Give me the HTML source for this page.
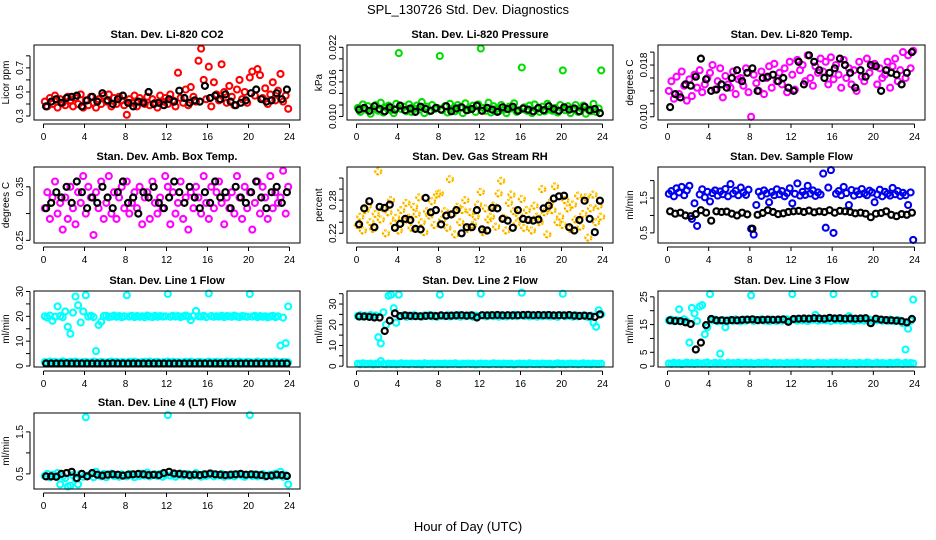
<!DOCTYPE html>
<html><head><meta charset="utf-8"><style>
html,body{margin:0;padding:0;background:#fff}
svg{display:block;font-family:"Liberation Sans",sans-serif}
</style></head><body>
<svg id="chart" width="936" height="540" viewBox="0 0 936 540" xmlns="http://www.w3.org/2000/svg">
<text x="468" y="14" text-anchor="middle" font-size="13">SPL_130726  Std. Dev. Diagnostics</text>
<text x="468" y="531" text-anchor="middle" font-size="13">Hour of Day (UTC)</text>
</svg>
<script>
const hourTicks = [0,4,8,12,16,20,24];
const co2Red = [.42,.38,.45,.40,.47,.37,.44,.41,.39,.46,.43,.38,.45,.40,.48,.37,.43,.39,.46,.41,.37,.44,.40,.47,.42,.48,.38,.45,.40,.46,.43,.39,.31,.44,.41,.47,.38,.45,.42,.40,.46,.39,.44,.41,.37,.47,.42,.45,.40,.48,.43,.38,.66,.45,.41,.52,.39,.54,.46,.42,.76,.86,.60,.44,.71,.38,.58,.48,.43,.73,.50,.41,.55,.46,.39,.52,.60,.44,.50,.41,.62,.67,.47,.69,.64,.45,.53,.40,.48,.58,.43,.51,.65,.42,.47,.36];
const co2Black = [.38,.42,.44,.41,.45,.46,.47,.38,.43,.46,.42,.49,.43,.40,.44,.47,.41,.38,.42,.41,.50,.40,.41,.39,.44,.42,.51,.45,.41,.43,.42,.55,.45,.47,.44,.48,.42,.39,.41,.43,.49,.52,.44,.42,.43,.49,.44,.52];
const presGreen = [.0115,.0108,.0121,.0112,.0118,.0105,.0113,.0120,.0110,.0124,.0107,.0116,.0119,.0111,.0106,.0122,.0210,.0113,.0117,.0109,.0121,.0108,.0114,.0119,.0112,.0125,.0106,.0117,.0109,.0120,.0113,.0115,.0205,.0111,.0118,.0107,.0122,.0114,.0109,.0120,.0116,.0106,.0123,.0111,.0113,.0119,.0108,.0121,.0218,.0115,.0110,.0124,.0107,.0118,.0113,.0109,.0120,.0112,.0106,.0117,.0114,.0123,.0108,.0111,.0185,.0116,.0110,.0119,.0106,.0121,.0113,.0108,.0117,.0109,.0122,.0112,.0110,.0115,.0107,.0120,.0180,.0111,.0118,.0106,.0113,.0120,.0108,.0115,.0119,.0105,.0112,.0109,.0122,.0108,.0114,.0180];
const presBlack = [.0112,.0115,.0110,.0118,.0113,.0109,.0116,.0112,.0119,.0111,.0114,.0108,.0117,.0113,.0110,.0115,.0112,.0118,.0109,.0114,.0116,.0111,.0113,.0119,.0110,.0115,.0112,.0108,.0116,.0113,.0117,.0110,.0114,.0112,.0109,.0115,.0111,.0118,.0113,.0110,.0116,.0112,.0114,.0109,.0117,.0111,.0113,.0106];
const tempMag = [.0140,.0155,.0128,.0162,.0135,.0170,.0148,.0125,.0158,.0132,.0165,.0145,.0172,.0138,.0150,.0160,.0168,.0180,.0142,.0155,.0175,.0130,.0163,.0150,.0145,.0170,.0135,.0158,.0160,.0148,.0175,.0138,.0100,.0165,.0152,.0140,.0170,.0135,.0160,.0178,.0145,.0182,.0155,.0168,.0150,.0175,.0138,.0185,.0165,.0142,.0188,.0172,.0180,.0155,.0195,.0160,.0148,.0178,.0168,.0190,.0170,.0185,.0150,.0192,.0158,.0180,.0165,.0145,.0188,.0160,.0175,.0150,.0172,.0140,.0185,.0162,.0155,.0190,.0168,.0178,.0182,.0150,.0175,.0160,.0165,.0185,.0145,.0178,.0190,.0155,.0172,.0200,.0160,.0195,.0175,.0202];
const tempBlack = [.0115,.0135,.0130,.0150,.0148,.0162,.0190,.0158,.0140,.0142,.0150,.0145,.0160,.0172,.0155,.0168,.0175,.0140,.0160,.0162,.0165,.0155,.0160,.0145,.0140,.0185,.0150,.0195,.0185,.0172,.0160,.0168,.0175,.0190,.0180,.0168,.0145,.0172,.0162,.0180,.0178,.0140,.0172,.0168,.0165,.0150,.0168,.0200];
const ambMag = [.31,.34,.29,.33,.36,.30,.32,.27,.33,.29,.35,.31,.28,.34,.32,.37,.30,.35,.33,.26,.34,.31,.36,.29,.32,.37,.30,.34,.29,.33,.35,.31,.36,.30,.32,.34,.31,.35,.28,.33,.34,.29,.36,.32,.30,.33,.31,.37,.35,.28,.34,.30,.32,.36,.29,.33,.27,.34,.31,.35,.33,.30,.37,.32,.29,.35,.31,.34,.36,.32,.28,.33,.31,.34,.30,.37,.33,.29,.35,.31,.34,.27,.32,.36,.30,.35,.33,.29,.37,.31,.34,.32,.33,.38,.30,.35];
const ambBlack = [.31,.32,.34,.33,.35,.32,.36,.34,.31,.33,.32,.35,.33,.31,.34,.36,.32,.33,.30,.34,.33,.35,.32,.31,.33,.36,.34,.32,.35,.33,.31,.34,.32,.36,.33,.34,.31,.35,.33,.32,.34,.36,.33,.31,.34,.35,.32,.34];
const rhOrange = [.235,.250,.225,.262,.270,.240,.228,.255,.332,.245,.265,.220,.258,.280,.238,.248,.225,.262,.242,.275,.248,.230,.268,.255,.285,.240,.222,.260,.252,.278,.235,.290,.292,.245,.260,.230,.318,.255,.218,.268,.240,.262,.280,.228,.258,.235,.250,.272,.295,.222,.265,.245,.250,.270,.232,.292,.315,.248,.225,.275,.290,.260,.238,.252,.282,.230,.262,.245,.225,.270,.250,.240,.300,.258,.218,.275,.262,.305,.240,.250,.235,.280,.265,.228,.272,.245,.288,.232,.255,.285,.212,.265,.290,.240,.270,.250];
const rhBlack = [.236,.265,.278,.231,.268,.266,.272,.230,.237,.246,.244,.228,.227,.284,.258,.262,.236,.252,.254,.262,.220,.231,.231,.262,.227,.225,.266,.265,.246,.243,.230,.262,.246,.244,.243,.245,.265,.270,.283,.287,.288,.231,.225,.244,.279,.246,.222,.279];
const flowBlue = [1.62,1.70,1.55,1.78,1.66,1.82,1.58,1.72,1.85,0.90,1.35,0.70,1.60,1.75,1.52,1.68,1.40,1.64,1.72,1.57,1.69,1.61,1.76,1.55,1.90,1.63,1.71,1.58,1.80,1.66,1.59,1.74,0.62,0.45,1.30,1.68,1.56,1.72,1.63,1.38,1.67,1.58,1.75,1.61,1.70,1.55,1.64,1.78,1.35,1.62,1.92,1.57,1.68,1.59,1.85,1.63,1.72,1.56,1.66,1.60,2.20,0.65,1.80,2.30,0.50,1.62,1.70,1.58,1.82,1.64,1.30,1.73,1.57,1.69,1.61,1.76,1.63,1.58,1.71,1.66,1.38,1.60,1.74,1.55,1.68,1.62,1.57,1.79,1.61,1.70,1.56,1.65,1.58,1.30,1.66,0.30];
const flowBlack = [1.12,1.05,1.08,1.00,0.98,1.04,1.15,1.08,0.85,1.12,1.10,1.11,1.05,1.00,1.08,1.03,0.62,1.02,1.07,1.15,1.10,1.04,1.06,1.10,1.12,1.13,1.10,1.14,1.09,1.12,1.10,1.15,1.08,1.13,1.12,1.10,1.06,1.08,1.05,0.95,1.05,1.07,1.12,1.02,0.98,1.04,1.02,1.08];
const line1Hi = [20,19.5,20.3,18.2,19.8,24,20.1,19.6,22,15.8,13,21.5,28,24.5,17.5,22,28.5,19.9,20.2,19.7,6,16.5,17.8,20.1,20.2,19.7,19.9,20.3,19.8,20.1,19.6,20.0,28.5,19.9,20.2,19.7,20.1,19.8,20.0,19.6,20.3,19.9,19.7,20.2,19.8,20.1,19.9,20.0,29,19.8,20.2,19.9,20.1,19.7,20.0,20.3,19.8,18.5,20.1,22.2,20.0,19.9,20.2,19.7,29.2,20.1,19.8,20.0,19.9,20.2,19.7,20.1,20.0,19.8,20.3,19.9,19.7,20.1,20.0,19.8,29,19.9,20.2,19.7,20.1,19.8,20.0,19.6,19.9,20.2,19.7,20.0,8.2,19.5,9.2,24];
const line1Lo = [1.6,1.4,1.8,1.5,1.7,1.3,1.6,1.9,1.5,1.4,1.7,1.6,1.8,1.5,1.3,1.6,1.7,1.4,1.5,1.8,1.6,1.3,1.7,1.5,1.4,1.6,1.8,1.5,1.7,1.4,1.6,1.5,1.3,1.7,1.6,1.8,1.5,1.4,1.6,1.7,1.5,1.8,1.4,1.6,1.7,1.3,1.5,1.6,1.8,1.4,1.7,1.5,1.6,1.3,1.5,1.7,1.6,1.8,1.4,1.5,1.7,1.6,1.3,1.5,1.8,1.4,1.6,1.7,1.5,1.6,1.4,1.8,1.3,1.7,1.5,1.6,1.8,1.4,1.5,1.7,1.6,1.3,1.5,1.8,1.4,1.6,1.7,1.5,1.6,1.4,1.8,1.5,1.3,1.7,1.6,1.5];
const line1Black = [1,1,1,1,1.1,1,1,1,1,1,1,1,1,1.1,1,1,1,1,1,1,1,1,1,1,1,1,1,1,1,1,1,1,1,1,1,1,1,1,1,1,1,1,1,1,1,1,1,1];
const line2Hi = [24.3,24.6,23.9,24.4,24.1,24.7,24.0,24.5,14,11,26,20,34,34.5,28,21,34.5,24.2,24.6,23.8,24.4,24.0,24.7,24.1,24.3,23.9,24.5,24.2,24.6,24.0,24.4,23.8,34.5,24.3,24.1,24.6,24.0,24.4,24.2,24.7,23.9,24.5,24.1,24.3,24.6,23.8,24.4,24.2,35,24.5,24.0,24.3,24.7,24.1,24.4,23.9,24.6,24.2,24.0,24.5,24.3,24.8,24.1,24.4,35.5,24.2,24.6,24.0,24.3,24.5,23.9,24.4,24.1,24.7,24.2,24.0,24.5,24.3,23.8,24.6,35,24.1,24.4,24.2,23.9,24.6,24.0,24.3,24.5,24.1,23.7,24.4,21,19,27,25];
const line2Lo = [1.2,0.9,1.4,1.0,1.1,1.3,0.8,1.2,1.0,2.5,1.1,0.9,1.3,1.0,1.2,0.9,1.1,1.4,1.0,1.2,0.9,1.3,1.1,1.0,1.2,0.8,1.4,1.1,1.0,1.3,0.9,1.2,1.1,1.0,1.3,0.9,1.2,1.1,1.4,1.0,0.9,1.2,1.1,1.3,1.0,1.2,0.8,1.1,1.3,1.0,1.2,0.9,1.1,1.4,1.0,1.2,0.9,1.3,1.1,1.0,1.2,0.8,1.1,1.3,1.0,1.2,0.9,1.4,1.1,1.0,1.2,0.9,1.3,1.1,1.0,1.2,0.8,1.1,1.4,1.0,1.2,0.9,1.1,1.3,1.0,1.2,0.9,1.1,1.4,1.0,1.2,0.9,1.3,1.1,1.0,1.2];
const line2Black = [24,24,23.8,23.5,23.5,17,22,25.5,24.2,24.5,24.3,24.2,24.1,24.3,24.4,24.2,24.5,24.3,24.4,24.5,24.6,24.4,24.5,23.5,24.6,24.5,24.6,24.7,24.5,24.6,24.5,24.6,24.7,24.8,24.6,24.7,24.6,24.7,24.5,24.6,24.5,24.7,24.4,24.3,24.4,24.2,23.8,25];
const line3Hi = [16.5,16.8,16.2,16.6,20.5,16.4,16.9,16.1,8.5,21,19,16.3,21.5,22,11.5,14,26,16.5,16.8,16.2,4.5,16.6,14,16.4,16.7,16.3,16.9,16.5,16.2,16.8,16.4,16.6,25.5,16.3,16.7,16.5,16.9,16.4,16.6,16.2,16.8,16.5,16.3,16.7,16.4,16.6,16.9,16.5,26,16.7,16.4,16.8,16.5,16.6,16.3,16.9,16.7,18.5,16.4,16.8,16.6,16.5,16.9,16.3,26,16.6,16.8,16.4,16.7,16.5,18,16.6,16.3,16.7,16.5,16.9,16.4,16.6,16.8,16.3,26,16.5,16.7,16.4,16.6,16.3,16.8,16.5,16.2,16.6,16.4,15.5,6,13.5,16.3,24];
const line3Lo = [1.0,0.8,1.2,0.9,1.1,0.7,1.0,1.3,0.9,1.1,0.8,1.2,1.0,0.9,1.1,1.3,0.8,1.0,1.2,0.9,1.1,1.0,0.8,1.2,0.9,1.1,1.0,1.3,0.8,1.0,1.2,0.9,1.1,0.8,1.0,1.2,0.9,1.1,1.3,1.0,0.8,1.2,0.9,1.1,1.0,0.8,1.2,0.9,1.1,1.0,1.3,0.8,1.0,1.2,0.9,1.1,0.8,1.0,1.2,0.9,1.1,1.0,0.8,1.2,0.9,1.3,1.0,1.1,0.8,1.2,0.9,1.0,1.1,0.8,1.2,1.0,0.9,1.3,1.1,0.8,1.0,1.2,0.9,1.1,1.0,0.8,1.2,0.9,1.1,1.3,1.0,0.8,1.2,0.9,1.1,1.0];
const line3Black = [16.5,16.3,16.2,15.8,15.2,6,8.5,14.8,17,16.5,16.5,16.4,16.6,16.5,16.7,16.8,16.9,16.6,16.7,16.8,16.7,16.8,16.9,16.0,17.0,17.1,17.2,17.1,17.3,17.2,17.1,17.4,17.2,17.3,17.1,17.2,17.1,17.2,17.3,15.5,17.1,16.8,16.6,16.5,16.4,16.2,15.8,17];
const line4Cyan = [.45,.50,.42,.48,.46,.52,.25,.44,.40,.20,.22,.47,.38,.25,.50,.43,1.85,.46,.49,.42,.55,.47,.44,.50,.42,.48,.51,.45,.47,.43,.49,.46,.44,.50,.47,.42,.48,.45,.51,.46,.53,.44,.47,.49,.45,.50,.43,.47,1.9,.46,.49,.43,.47,.51,.45,.48,.50,.44,.47,.52,.46,.43,.49,.45,.47,.51,.44,.48,.46,.50,.43,.47,.45,.49,.44,.48,.50,.46,.43,.47,1.9,.45,.49,.44,.47,.50,.43,.46,.48,.44,.51,.46,.55,.43,.47,.25];
const line4Black = [.44,.44,.43,.50,.52,.55,.40,.50,.44,.52,.48,.46,.48,.49,.48,.46,.48,.49,.50,.49,.47,.48,.47,.52,.55,.51,.50,.49,.47,.48,.47,.49,.51,.49,.48,.47,.48,.49,.50,.48,.49,.48,.47,.45,.46,.48,.47,.45];

const NS = "http://www.w3.org/2000/svg";
const svg = document.getElementById('chart');
function mk(tag, attrs, parent){const e=document.createElementNS(NS,tag);for(const k in attrs)e.setAttribute(k,attrs[k]);(parent||svg).appendChild(e);return e;}

const cols=[[34,300],[347,613],[658,925]];
const rows=[[45,120],[167,243],[291,367],[413,489]];
const panels=[
 {t:"Stan. Dev. Li-820 CO2",yl:"Licor ppm",c:0,r:0,d:[0.267,0.89],ticks:[.3,.4,.5,.6,.7,.8],labels:[.3,.5,.7],fmt:1,series:[[co2Red,"#ff0000"],[co2Black,"#000"]],name:"co2"},
 {t:"Stan. Dev. Li-820 Pressure",yl:"kPa",c:1,r:0,d:[0.0094,0.0224],ticks:[.010,.012,.014,.016,.018,.020,.022],labels:[.010,.016,.022],fmt:3,series:[[presGreen,"#00dd00"],[presBlack,"#000"]],name:"pressure"},
 {t:"Stan. Dev. Li-820 Temp.",yl:"degrees C",c:2,r:0,d:[0.0095,0.0211],ticks:[.010,.012,.014,.016,.018,.020],labels:[.010,.018],fmt:3,series:[[tempMag,"#ff00ff"],[tempBlack,"#000"]],name:"temp"},
 {t:"Stan. Dev. Amb. Box Temp.",yl:"degrees C",c:0,r:1,d:[0.245,0.387],ticks:[.25,.30,.35],labels:[.25,.35],fmt:2,series:[[ambMag,"#ff00ff"],[ambBlack,"#000"]],name:"amb-temp"},
 {t:"Stan. Dev. Gas Stream RH",yl:"percent",c:1,r:1,d:[0.2024,0.34],ticks:[.22,.24,.26,.28,.30,.32],labels:[.22,.28],fmt:2,series:[[rhOrange,"#ff9900"],[rhBlack,"#000"]],name:"rh"},
 {t:"Stan. Dev. Sample Flow",yl:"ml/min",c:2,r:1,d:[0.21,2.39],ticks:[.5,1,1.5,2],labels:[.5,1.5],fmt:1,series:[[flowBlue,"#0000ee"],[flowBlack,"#000"]],name:"sample-flow"},
 {t:"Stan. Dev. Line 1 Flow",yl:"ml/min",c:0,r:2,d:[-0.4,30.2],ticks:[0,5,10,15,20,25,30],labels:[0,10,20,30],fmt:0,series:[[line1Hi,"#00ffff"],[line1Lo,"#00ffff"],[line1Black,"#000"]],name:"line1-flow"},
 {t:"Stan. Dev. Line 2 Flow",yl:"ml/min",c:1,r:2,d:[-0.4,36.3],ticks:[0,5,10,15,20,25,30,35],labels:[0,10,20,30],fmt:0,series:[[line2Hi,"#00ffff"],[line2Lo,"#00ffff"],[line2Black,"#000"]],name:"line2-flow"},
 {t:"Stan. Dev. Line 3 Flow",yl:"ml/min",c:2,r:2,d:[-0.3,27.1],ticks:[0,5,10,15,20,25],labels:[0,5,15,25],fmt:0,series:[[line3Hi,"#00ffff"],[line3Lo,"#00ffff"],[line3Black,"#000"]],name:"line3-flow"},
 {t:"Stan. Dev. Line 4 (LT) Flow",yl:"ml/min",c:0,r:3,d:[0.14,1.95],ticks:[.5,1,1.5],labels:[.5,1.5],fmt:1,series:[[line4Cyan,"#00ffff"],[line4Black,"#000"]],name:"line4-flow"}
];

panels.forEach(p=>{
 const [L,R]=cols[p.c],[T,B]=rows[p.r];
 const g=mk('g',{});
 
 
 const xs=h=>L+9.5+(R-L-20)*h/24;
 const ys=v=>B-(v-p.d[0])/(p.d[1]-p.d[0])*(B-T);
 const title=mk('text',{x:(L+R)/2,y:T-7,'text-anchor':'middle','font-size':11,'font-weight':'bold'},g);
 title.textContent=p.t;
 
 
 p.series.forEach(([arr,col],si)=>{
  const isBlack=col==="#000";
  const sg=mk('g',{fill:'none',stroke:col,'stroke-width':isBlack?2.2:2.1},g);
  
  
  const n=arr.length;
  arr.forEach((v,i)=>{
   const c=mk('circle',{cx:xs((i+0.5)*24/n).toFixed(1),cy:ys(v).toFixed(1),r:3},sg);
   
   
   if(col==="#ff9900") c.setAttribute('stroke-dasharray','2.5 1.5');
  });
  if(col==="#ff9900"){
   const sg2=mk('g',{fill:'none',stroke:'#ffff00','stroke-width':1.4,'stroke-dasharray':'1.2 2'},g);
   
   
   arr.forEach((v,i)=>{mk('circle',{cx:xs((i+0.5)*24/n).toFixed(1),cy:ys(v).toFixed(1),r:3},sg2);});
  }
 });
 const box=mk('rect',{x:L,y:T,width:R-L,height:B-T,fill:'none',stroke:'#000','stroke-width':1},g);
 
 
 const xa=mk('g',{'font-size':10},g);
 
 
 mk('line',{x1:xs(0),x2:xs(24),y1:B+4,y2:B+4,stroke:'#000'},xa);
 hourTicks.forEach(h=>{
  mk('line',{x1:xs(h),x2:xs(h),y1:B+4,y2:B+8,stroke:'#000'},xa);
  const t=mk('text',{x:xs(h),y:B+20,'text-anchor':'middle'},xa);t.textContent=h;
 });
 const ya=mk('g',{'font-size':10},g);
 
 
 const yt=p.ticks;
 mk('line',{x1:L-4,x2:L-4,y1:ys(yt[0]),y2:ys(yt[yt.length-1]),stroke:'#000'},ya);
 yt.forEach(v=>mk('line',{x1:L-8,x2:L-4,y1:ys(v),y2:ys(v),stroke:'#000'},ya));
 p.labels.forEach(v=>{
  const t=mk('text',{x:L-11,y:ys(v),'text-anchor':'middle',transform:`rotate(-90 ${L-11} ${ys(v)})`},ya);
  t.textContent=v.toFixed(p.fmt);
 });
 const yl=mk('text',{x:L-25,y:(T+B)/2,'text-anchor':'middle','font-size':10,transform:`rotate(-90 ${L-25} ${(T+B)/2})`},g);
 yl.textContent=p.yl;
 
 
});
</script>
</body></html>
